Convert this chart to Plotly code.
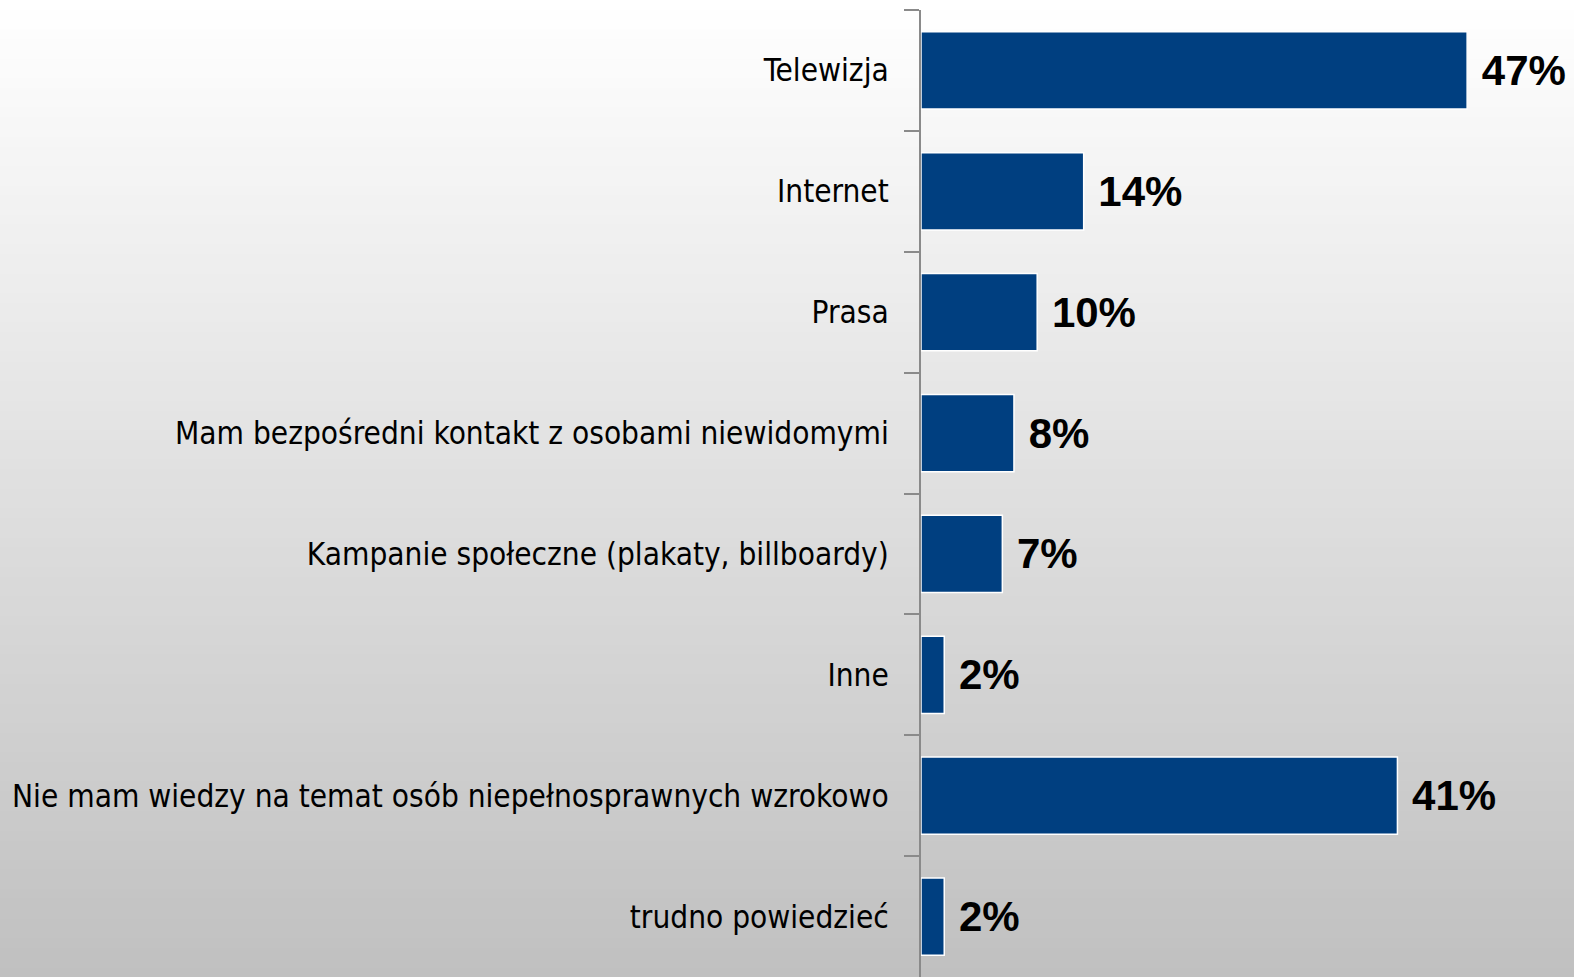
import plotly.graph_objects as go

categories = [
    "Telewizja",
    "Internet",
    "Prasa",
    "Mam bezpośredni kontakt z osobami niewidomymi",
    "Kampanie społeczne (plakaty, billboardy)",
    "Inne",
    "Nie mam wiedzy na temat osób niepełnosprawnych wzrokowo",
    "trudno powiedzieć",
]
values = [47, 14, 10, 8, 7, 2, 41, 2]

W, H = 1574, 977
ML, MR, MT, MB = 921, 0, 10, 0
pw, ph = W - ML - MR, H - MT - MB

fig = go.Figure()
fig.add_trace(go.Bar(
    y=categories, x=values, orientation="h",
    marker=dict(color="#003F80", line=dict(color="white", width=1.5)),
    texttemplate=" %{x}%", textposition="outside", cliponaxis=False,
    textfont=dict(family="Liberation Sans, Arial", size=42, color="black", weight="bold"),
    hoverinfo="skip",
))

# background vertical gradient (white -> light gray)
shapes = []
N = 100
y0p = -MB / ph
y1p = (ph + MT) / ph
step = (y1p - y0p) / N
for i in range(N):
    t = i / (N - 1)
    c = int(round(255 - (255 - 192) * t))
    ya = y1p - step * i
    yb = ya - step * 2.0  # overlap to avoid seams
    shapes.append(dict(type="rect", xref="paper", yref="paper",
                       x0=-ML / pw - 0.01, x1=1 + MR / pw + 0.01, y0=max(yb, y0p - 0.01), y1=ya,
                       fillcolor=f"rgb({c},{c},{c})", line=dict(width=0),
                       layer="below"))

fig.update_layout(
    width=W, height=H,
    margin=dict(l=ML, r=MR, t=MT, b=MB),
    paper_bgcolor="#c0c0c0", plot_bgcolor="rgba(0,0,0,0)",
    shapes=shapes, showlegend=False, bargap=0.36,
    font=dict(family="DejaVu Sans", size=29, color="black"),
)
fig.update_xaxes(range=[0, pw / 11.62], visible=False, showgrid=False, zeroline=False)
fig.update_yaxes(
    categoryorder="array", categoryarray=categories, autorange="reversed",
    showline=True, linecolor="#8a8a8a", linewidth=2,
    ticks="outside", tickson="boundaries", ticklen=15, tickcolor="#8a8a8a", tickwidth=2,
    ticklabelstandoff=24, showgrid=False, zeroline=False,
    tickfont=dict(family="DejaVu Sans Condensed, DejaVu Sans", size=31.3, color="black"),
)

fig.write_html("out.html", config={"displayModeBar": False},
               post_script="document.body.style.margin='0';document.body.style.overflow='hidden';")
